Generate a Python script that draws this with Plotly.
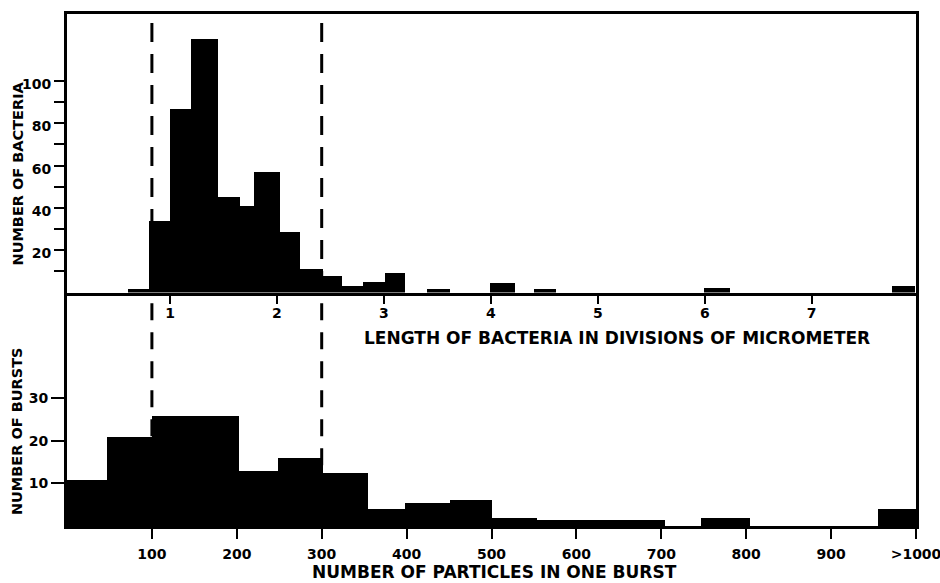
import plotly.graph_objects as go

# ---- Top panel: length of bacteria (divisions of micrometer) ----
length_left = [0.61, 0.80, 1.00, 1.20, 1.45, 1.65, 1.79, 2.03, 2.22, 2.43, 2.61, 2.80, 3.01, 3.40, 3.99, 4.40, 5.99, 7.75]
length_right = [0.80, 1.00, 1.20, 1.45, 1.65, 1.79, 2.03, 2.22, 2.43, 2.61, 2.80, 3.01, 3.20, 3.62, 4.23, 4.61, 6.24, 7.97]
bacteria_counts = [1.5, 34, 87, 120, 45, 41, 57, 28.5, 11, 8, 3, 5, 9, 1.5, 4.5, 1.5, 2, 3]
length_ticks = [1, 2, 3, 4, 5, 6, 7]
bacteria_ticks = [10, 20, 30, 40, 50, 60, 70, 80, 90, 100]
bacteria_ticktext = ["", "20", "", "40", "", "60", "", "80", "", "100"]

# ---- Bottom panel: number of particles in one burst ----
burst_left = [0, 47, 100, 150, 203, 248, 301, 355, 398, 451, 501, 553, 747, 955]
burst_right = [47, 100, 150, 203, 248, 301, 355, 398, 451, 501, 553, 704, 805, 1000]
burst_counts = [11, 21, 26, 26, 13, 16, 12.5, 4, 5.5, 6.3, 2, 1.5, 2, 4]
burst_ticks = [100, 200, 300, 400, 500, 600, 700, 800, 900, 1000]
burst_ticktext = ["100", "200", "300", "400", "500", "600", "700", "800", "900", ">1000"]
bursts_ticks_y = [10, 20, 30]

# reference (dashed) limits, in particles per burst
burst_markers = [100, 300]

FONT = "DejaVu Sans"
BLACK = "#000000"

fig = go.Figure()

fig.add_trace(go.Bar(
    x=[(a + b) / 2 for a, b in zip(length_left, length_right)],
    y=bacteria_counts,
    width=[b - a for a, b in zip(length_left, length_right)],
    marker=dict(color=BLACK, line=dict(width=0)),
    xaxis="x", yaxis="y", showlegend=False, hoverinfo="skip",
))
fig.add_trace(go.Bar(
    x=[(a + b) / 2 for a, b in zip(burst_left, burst_right)],
    y=burst_counts,
    width=[b - a for a, b in zip(burst_left, burst_right)],
    marker=dict(color=BLACK, line=dict(width=0)),
    xaxis="x2", yaxis="y2", showlegend=False, hoverinfo="skip",
))

tickfont = dict(family=FONT, size=14, color=BLACK, weight="bold")

shapes = []
for m in burst_markers:
    shapes.append(dict(type="line", xref="x2", yref="y", x0=m, x1=m, y0=127.4, y1=0,
                       line=dict(color=BLACK, width=3, dash="19px,12px"), layer="above"))
    shapes.append(dict(type="line", xref="x2", yref="y2", x0=m, x1=m, y0=52.4, y1=0,
                       line=dict(color=BLACK, width=3, dash="17px,12px"), layer="above"))

common = dict(showgrid=False, zeroline=False, automargin=False, tickfont=tickfont,
              tickcolor=BLACK, tickwidth=2, showline=True, linecolor=BLACK,
              ticklabeloverflow="allow")

title_font = dict(family=FONT, size=17, color=BLACK, weight="bold")
ytitle_font = dict(family=FONT, size=14.5, color=BLACK, weight="bold")

fig.update_layout(
    width=940, height=583,
    margin=dict(l=67, r=24, t=14, b=57, autoexpand=False),
    paper_bgcolor="white", plot_bgcolor="white",
    bargap=0,
    xaxis=dict(domain=[0, 1], anchor="y", range=[0.037, 7.975], mirror=True,
               tickvals=length_ticks, ticks="outside", ticklen=8, linewidth=3,
               ticklabelstandoff=-2, **common),
    yaxis=dict(domain=[0.456, 1], anchor="x", range=[0, 131.7], mirror=True,
               tickvals=bacteria_ticks, ticktext=bacteria_ticktext,
               ticks="outside", ticklen=10, linewidth=3, ticklabelshift=3, **common),
    xaxis2=dict(domain=[0, 1], anchor="y2", range=[0, 1000], mirror=False,
                tickvals=burst_ticks, ticktext=burst_ticktext,
                ticks="outside", ticklen=10, linewidth=3, ticklabelstandoff=3, **common),
    yaxis2=dict(domain=[0, 0.456], anchor="x2", range=[0, 54.9], mirror=True,
                tickvals=bursts_ticks_y, ticks="outside", ticklen=13, linewidth=3, **common),
    shapes=shapes,
    annotations=[
        dict(text="LENGTH OF BACTERIA IN DIVISIONS OF MICROMETER", xref="paper", yref="paper",
             x=0.648, y=0.368, xanchor="center", yanchor="middle", showarrow=False,
             font=title_font),
        dict(text="NUMBER OF PARTICLES IN ONE BURST", xref="paper", yref="paper",
             x=0.503, y=-0.1133, xanchor="center", yanchor="bottom", showarrow=False,
             font=title_font),
        dict(text="NUMBER OF BACTERIA", xref="paper", yref="paper",
             x=-0.058, y=0.688, xanchor="center", yanchor="middle", showarrow=False, textangle=-90,
             font=ytitle_font),
        dict(text="NUMBER OF BURSTS", xref="paper", yref="paper",
             x=-0.058, y=0.185, xanchor="center", yanchor="middle", showarrow=False, textangle=-90,
             font=ytitle_font),
    ],
)

fig.write_html(
    "out.html",
    config={"displayModeBar": False},
    post_script="document.body.style.margin='0';document.body.style.overflow='hidden';",
)
